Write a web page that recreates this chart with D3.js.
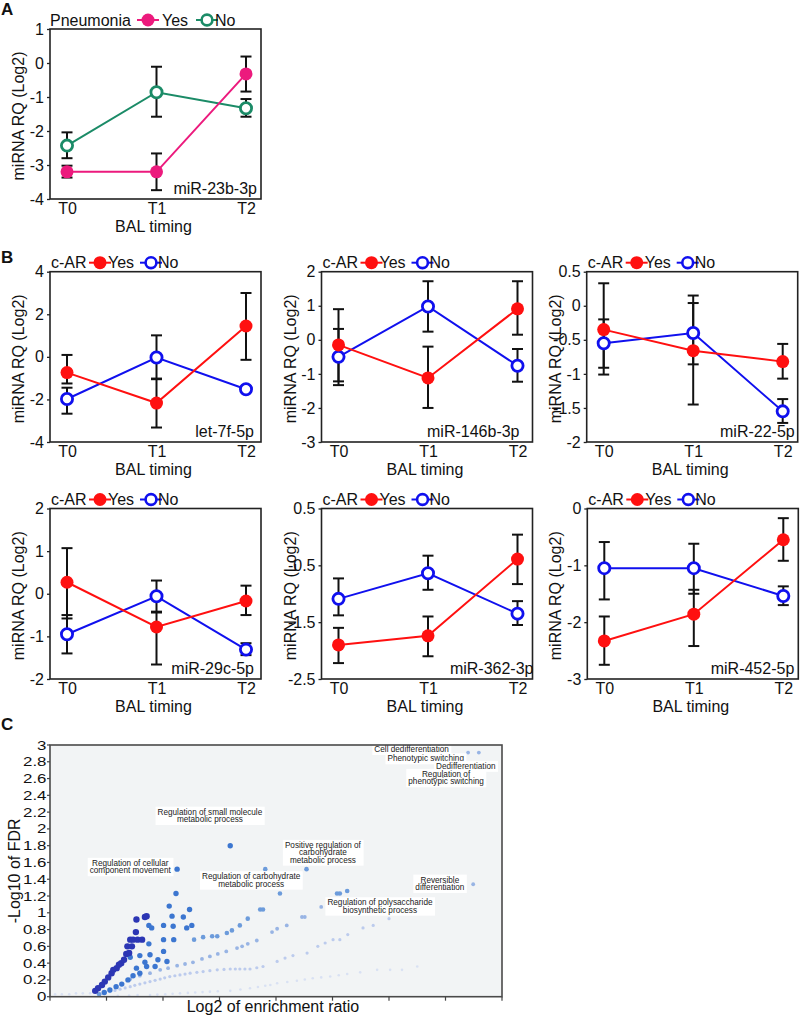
<!DOCTYPE html>
<html><head><meta charset="utf-8">
<script src="https://cdn.jsdelivr.net/npm/d3@7"></script>
<style>
body{margin:0;background:#fff;}
svg{display:block;font-family:"Liberation Sans",Arial,Helvetica,sans-serif;}
</style></head><body>
<svg id="c" width="800" height="1017"></svg>
<script>
// ---------------- DATA ----------------
const timepoints = ["T0","T1","T2"];

// Panel A: miR-23b-3p by pneumonia
const a_yes   = [-3.2, -3.2, -0.32];
const a_yesHi = [-3.02, -2.66, 0.19];
const a_yesLo = [-3.37, -3.74, -0.84];
const a_no    = [-2.43, -0.86, -1.33];
const a_noHi  = [-2.04, -0.11, -1.06];
const a_noLo  = [-2.80, -1.58, -1.58];
const a_ticks = [1, 0, -1, -2, -3, -4];

// Panel B: by c-AR
const let7f_yes = [-0.74, -2.17, 1.45], let7f_yesHi = [0.09, -1.02, 3.0], let7f_yesLo = [-1.25, -3.32, -0.14];
const let7f_no  = [-1.98, -0.03, -1.52], let7f_noHi = [-1.45, 1.01, -1.38], let7f_noLo = [-2.67, -1.05, -1.65];
const let7f_ticks = [4, 2, 0, -2, -4];

const m146_yes = [-0.15, -1.12, 0.91], m146_yesHi = [0.32, -0.2, 1.72], m146_yesLo = [-1.22, -2.0, 0.15];
const m146_no  = [-0.5, 0.98, -0.76],  m146_noHi = [0.9, 1.72, -0.27],  m146_noLo = [-1.33, 0.24, -1.23];
const m146_ticks = [2, 1, 0, -1, -2, -3];

const m22_yes = [-0.35, -0.66, -0.82], m22_yesHi = [-0.2, 0.04, -0.56], m22_yesLo = [-0.91, -0.86, -1.07];
const m22_no  = [-0.55, -0.4, -1.55],  m22_noHi = [0.33, 0.15, -1.37],  m22_noLo = [-1.01, -1.45, -1.72];
const m22_ticks = [0.5, 0, -0.5, -1, -1.5, -2];

const m29c_yes = [0.27, -0.78, -0.17], m29c_yesHi = [1.07, -0.44, 0.19], m29c_yesLo = [-0.58, -1.66, -0.5];
const m29c_no  = [-0.95, -0.06, -1.31], m29c_noHi = [-0.5, 0.31, -1.16], m29c_noLo = [-1.4, -0.42, -1.44];
const m29c_ticks = [2, 1, 0, -1, -2];

const m362_yes = [-1.9, -1.74, -0.39], m362_yesHi = [-1.6, -1.4, 0.04], m362_yesLo = [-2.22, -2.1, -0.83];
const m362_no  = [-1.09, -0.64, -1.35], m362_noHi = [-0.73, -0.33, -1.13], m362_noLo = [-1.38, -0.93, -1.55];
const m362_ticks = [0.5, -0.5, -1.5, -2.5];

const m452_yes = [-2.33, -1.86, -0.55], m452_yesHi = [-1.9, -1.43, -0.17], m452_yesLo = [-2.75, -2.42, -0.92];
const m452_no  = [-1.05, -1.05, -1.54], m452_noHi = [-0.59, -0.62, -1.37], m452_noLo = [-1.6, -1.5, -1.7];
const m452_ticks = [0, -1, -2, -3];

// Panel C: enrichment scatter (x: log2 enrichment ratio, y: -log10 FDR), grouped by band
const band1 = [[0.09,0.03],[0.21,0.03],[0.34,0.03],[0.46,0.04],[0.58,0.04],[0.71,0.04],[1.2,0.01],[1.4,0.015],[1.55,0.02],
  [1.77,0.02],[1.9,0.025],[2.04,0.03],[2.17,0.035],[2.30,0.04],[2.44,0.045],[2.57,0.05],[2.7,0.055],[2.83,0.06],[2.97,0.065],
  [3.19,0.07],[3.37,0.085],[3.54,0.10],[3.68,0.115],[3.81,0.13],[3.9,0.14],[4.02,0.16],[4.2,0.175],[4.37,0.19],[4.51,0.205],[4.65,0.22],
  [4.8,0.23],[4.96,0.24],[5.11,0.255],[5.26,0.27],[5.49,0.29],[5.79,0.32],[6.02,0.32],[6.23,0.32],[6.50,0.36]];
const band2 = [[1.06,0.06],[1.15,0.075],[1.24,0.09],[1.33,0.105],[1.42,0.12],[1.5,0.135],[1.59,0.15],[1.68,0.165],[1.77,0.18],[1.86,0.195],
  [1.95,0.21],[2.03,0.225],[2.12,0.24],[2.21,0.25],[2.30,0.26],[2.39,0.27],[2.48,0.28],[2.6,0.29],[2.71,0.30],[2.83,0.31],[2.96,0.32],
  [3.08,0.325],[3.19,0.33],[3.28,0.33],[3.36,0.33],[3.45,0.33],[3.54,0.33],[3.66,0.345],[3.77,0.36],[4.02,0.42],[4.16,0.46],[4.30,0.49],
  [4.55,0.52],[4.74,0.60],[4.87,0.64],[5.01,0.68],[5.13,0.68],[5.27,0.74],[5.54,0.82],[5.72,0.85],[6.00,0.93]];
const band3 = [[1.42,0.21],[1.59,0.25],[1.77,0.28],[1.95,0.32],[2.09,0.34],[2.25,0.37],[2.39,0.39],[2.53,0.41],[2.69,0.45],[2.83,0.48],
  [2.97,0.51],[3.12,0.54],[3.31,0.58],[3.40,0.60],[3.50,0.63],[3.66,0.67],[3.93,0.77],[4.02,0.81],[4.19,0.85],[4.46,0.95],[4.51,0.95],
  [4.80,1.07],[7.49,1.34],[7.40,2.91],[7.59,2.91]];
const band4 = [[0.87,0.03],[2.55,0.68],[2.71,0.71],[2.87,0.72],[2.96,0.72],[3.13,0.76],[3.22,0.79],[3.36,0.85],[3.50,0.93],[3.72,1.04],
  [3.77,1.04],[4.07,1.23],[5.08,1.23],[5.13,1.23],[5.26,1.26],[3.81,1.52],[4.54,1.52]];
const band5 = [[2.01,0.85],[2.01,0.68],[2.01,0.54],[2.18,0.84],[2.36,0.95],[2.47,1.04],[2.42,0.82],[2.51,0.85],[2.19,0.68],[2.16,0.96],
  [2.11,1.08],[2.23,1.23],[2.25,1.52],[1.75,0.85],[1.80,0.82],[1.75,0.63],[1.77,0.50],[1.59,0.49],[1.86,0.36],[1.71,0.36],[2.07,0.42],
  [1.53,0.34],[1.59,0.28],[1.47,0.25],[1.38,0.20],[1.27,0.15],[1.17,0.12],[1.06,0.08],[0.96,0.05],[1.91,0.44],[1.68,0.41],[1.42,0.47],[3.19,1.80]];
const band6 = [[1.53,0.92],[1.68,0.95],[1.71,0.96],[1.52,0.77],[1.42,0.68],[1.47,0.68],[1.55,0.68],[1.63,0.68],[1.37,0.60],[1.45,0.60],
  [1.35,0.51],[1.40,0.52],[1.26,0.40],[1.31,0.44],[1.18,0.34],[1.22,0.38],[1.09,0.28],[1.12,0.32],[1.03,0.23],[0.97,0.18],[0.92,0.14],
  [0.85,0.10],[0.80,0.07]];
const cTicks = [0,0.2,0.4,0.6,0.8,1,1.2,1.4,1.6,1.8,2,2.2,2.4,2.6,2.8,3];
const cTickLabels = ["0","0.2","0.4","0.6","0.8","1","1.2","1.4","1.6","1.8","2","2.2","2.4","2.6","2.8","3"];
const cXTicks = [0,1,2,3,4,5,6,7,8];
const cLabels = [
  {lines:["Cell dedifferentiation"], x:6.40, y:2.95},
  {lines:["Phenotypic switching"], x:6.65, y:2.84},
  {lines:["Dedifferentiation"], x:7.36, y:2.75},
  {lines:["Regulation of","phenotypic switching"], x:7.01, y:2.61},
  {lines:["Regulation of small molecule","metabolic process"], x:2.83, y:2.16},
  {lines:["Regulation of cellular","component movement"], x:1.42, y:1.55},
  {lines:["Regulation of carbohydrate","metabolic process"], x:3.56, y:1.39},
  {lines:["Positive regulation of","carbohydrate","metabolic process"], x:4.83, y:1.72},
  {lines:["Regulation of polysaccharide","biosynthetic process"], x:5.84, y:1.08},
  {lines:["Reversible","differentiation"], x:6.90, y:1.35}
];

// ---------------- DRAW ----------------
const svg = d3.select("#c");
const W = 211;

function linePanel(cfg) {
  const g = svg.append("g");
  const x = d3.scaleLinear().domain([0,2]).range([cfg.L+17, cfg.L+196]);
  const y = d3.scaleLinear().domain([cfg.ticks[cfg.ticks.length-1], cfg.ticks[0]]).range([cfg.bottom, cfg.top]);
  const R = cfg.L + W;

  g.append("rect").attr("x",cfg.L).attr("y",cfg.top).attr("width",W).attr("height",cfg.bottom-cfg.top)
    .attr("fill","none").attr("stroke","#222").attr("stroke-width",1.6);

  const ya = g.append("g").attr("transform",`translate(${cfg.L},0)`)
    .call(d3.axisLeft(y).tickValues(cfg.ticks).tickFormat(d=>String(d)).tickSize(3).tickPadding(3));
  ya.select(".domain").remove();
  ya.attr("font-size",null).attr("font-family",null);
  ya.selectAll("text").attr("font-size",16).attr("fill","#111");
  ya.selectAll("line").attr("stroke","#222").attr("stroke-width",1.3);

  const xa = g.append("g").attr("transform",`translate(0,${cfg.bottom})`)
    .call(d3.axisBottom(x).tickValues([0,1,2]).tickFormat(i=>timepoints[i]).tickSize(0).tickPadding(4));
  xa.select(".domain").remove();
  xa.attr("font-size",null).attr("font-family",null);
  xa.selectAll("text").attr("font-size",16).attr("fill","#111");

  g.append("text").attr("transform",`translate(${cfg.L-26},${(cfg.top+cfg.bottom)/2+2}) rotate(-90)`)
    .attr("text-anchor","middle").attr("font-size",16).attr("fill","#111").text("miRNA RQ (Log2)");
  g.append("text").attr("x",cfg.L+W/2-2).attr("y",cfg.bottom+33).attr("text-anchor","middle")
    .attr("font-size",16).attr("fill","#111").text("BAL timing");
  g.append("text").attr("x",R-cfg.annOff).attr("y",cfg.bottom-5).attr("text-anchor","end")
    .attr("font-size",16).attr("fill","#111").text(cfg.name);

  const idx = [0,1,2];
  const line = d3.line().x(i=>x(i));
  const series = [
    {v:cfg.no, lo:cfg.noLo, hi:cfg.noHi, col:cfg.cNo, filled:false},
    {v:cfg.yes, lo:cfg.yesLo, hi:cfg.yesHi, col:cfg.cYes, filled:true}
  ];
  series.forEach(s=>{
    g.append("path").attr("d", line.y(i=>y(s.v[i]))(idx)).attr("fill","none").attr("stroke",s.col).attr("stroke-width",2);
  });
  series.forEach(s=>{
    const eb = g.append("g").attr("stroke","#111").attr("stroke-width",2);
    idx.forEach(i=>{
      eb.append("line").attr("x1",x(i)).attr("x2",x(i)).attr("y1",y(s.lo[i])).attr("y2",y(s.hi[i]));
      eb.append("line").attr("x1",x(i)-5.5).attr("x2",x(i)+5.5).attr("y1",y(s.lo[i])).attr("y2",y(s.lo[i]));
      eb.append("line").attr("x1",x(i)-5.5).attr("x2",x(i)+5.5).attr("y1",y(s.hi[i])).attr("y2",y(s.hi[i]));
    });
  });
  series.forEach(s=>{
    g.selectAll(null).data(idx).enter().append("circle")
      .attr("cx",i=>x(i)).attr("cy",i=>y(s.v[i]))
      .attr("r", s.filled?6.5:5.6)
      .attr("fill", s.filled? s.col : "#fff")
      .attr("stroke", s.col).attr("stroke-width", s.filled?0:2.8);
  });

  // legend
  const ly = cfg.top - 9;
  const lg = g.append("g");
  lg.append("text").attr("x",cfg.L+cfg.lg[0]).attr("y",ly+5.7).attr("font-size",16).attr("fill","#111").text(cfg.legendTitle);
  const items = [
    {cx:cfg.L+cfg.lg[1], tx:cfg.L+cfg.lg[2], col:cfg.cYes, filled:true, label:"Yes"},
    {cx:cfg.L+cfg.lg[3], tx:cfg.L+cfg.lg[4], col:cfg.cNo, filled:false, label:"No"}
  ];
  items.forEach(it=>{
    lg.append("line").attr("x1",it.cx-11).attr("x2",it.cx+11).attr("y1",ly).attr("y2",ly).attr("stroke",it.col).attr("stroke-width",2);
    lg.append("circle").attr("cx",it.cx).attr("cy",ly).attr("r",it.filled?6.5:5.4)
      .attr("fill",it.filled?it.col:"#fff").attr("stroke",it.col).attr("stroke-width",it.filled?0:2.6);
    lg.append("text").attr("x",it.tx).attr("y",ly+5.7).attr("font-size",16).attr("fill","#111").text(it.label);
  });
}

const PINK="#ec1a7d", GREEN="#1b8b67", RED="#ff1010", BLUE="#1010ee";
const lgA = [0,98,112,157,165], lgB = [1,50,58,101,108];

linePanel({L:50, top:29, bottom:199, ticks:a_ticks, name:"miR-23b-3p", annOff:4,
  yes:a_yes, yesLo:a_yesLo, yesHi:a_yesHi, no:a_no, noLo:a_noLo, noHi:a_noHi,
  cYes:PINK, cNo:GREEN, legendTitle:"Pneumonia", lg:lgA});

const rowB = [
  {L:50, top:271.7, bottom:442, ticks:let7f_ticks, name:"let-7f-5p", annOff:7,
   yes:let7f_yes, yesLo:let7f_yesLo, yesHi:let7f_yesHi, no:let7f_no, noLo:let7f_noLo, noHi:let7f_noHi},
  {L:321.5, top:271.7, bottom:442, ticks:m146_ticks, name:"miR-146b-3p", annOff:13,
   yes:m146_yes, yesLo:m146_yesLo, yesHi:m146_yesHi, no:m146_no, noLo:m146_noLo, noHi:m146_noHi},
  {L:586.7, top:271.7, bottom:442, ticks:m22_ticks, name:"miR-22-5p", annOff:3,
   yes:m22_yes, yesLo:m22_yesLo, yesHi:m22_yesHi, no:m22_no, noLo:m22_noLo, noHi:m22_noHi},
  {L:50, top:508.5, bottom:679, ticks:m29c_ticks, name:"miR-29c-5p", annOff:7,
   yes:m29c_yes, yesLo:m29c_yesLo, yesHi:m29c_yesHi, no:m29c_no, noLo:m29c_noLo, noHi:m29c_noHi},
  {L:321.5, top:508.5, bottom:679, ticks:m362_ticks, name:"miR-362-3p", annOff:-1,
   yes:m362_yes, yesLo:m362_yesLo, yesHi:m362_yesHi, no:m362_no, noLo:m362_noLo, noHi:m362_noHi},
  {L:587.3, top:508.5, bottom:679, ticks:m452_ticks, name:"miR-452-5p", annOff:4,
   yes:m452_yes, yesLo:m452_yesLo, yesHi:m452_yesHi, no:m452_no, noLo:m452_noLo, noHi:m452_noHi}
];
rowB.forEach(c=>linePanel(Object.assign({cYes:RED, cNo:BLUE, legendTitle:"c-AR", lg:lgB}, c)));

// panel letters
[["A",15],["B",263],["C",730]].forEach(([t,yy])=>{
  svg.append("text").attr("x",1).attr("y",yy).attr("font-size",17).attr("font-weight","bold").attr("fill","#111").text(t);
});

// ---------------- Panel C ----------------
(function(){
  const L=50, R=502, T=745, B=996.7;
  const x = d3.scaleLinear().domain([0,8]).range([L,R]);
  const y = d3.scaleLinear().domain([0,3]).range([B,T]);
  const g = svg.append("g");
  g.append("rect").attr("x",L).attr("y",T).attr("width",R-L).attr("height",B-T).attr("fill","#f2f4f5");

  const bands = [band1,band2,band3,band4,band5,band6];
  const colors = ["#d9e1f3","#bccbed","#98b4e4","#6c9bdb","#3c76d0","#2c36b4"];
  const radii = [1.3,1.6,1.9,2.3,2.7,3.2];
  bands.forEach((b,k)=>{
    g.append("g").selectAll("circle").data(b).enter().append("circle")
      .attr("cx",d=>x(d[0])).attr("cy",d=>y(d[1])).attr("r",radii[k]).attr("fill",colors[k]);
  });

  // labels with white boxes
  cLabels.forEach(lb=>{
    const lh = 7.4;
    const n = lb.lines.length;
    const lgp = g.append("g");
    const tg = lgp.append("g");
    lb.lines.forEach((s,i)=>{
      tg.append("text").attr("x",x(lb.x)).attr("y",y(lb.y)+(i-(n-1)/2)*lh).attr("dy","0.35em")
        .attr("text-anchor","middle").attr("font-size",8.2).attr("fill","#222").text(s);
    });
    const bb = tg.node().getBBox();
    lgp.insert("rect","g").attr("x",bb.x-2).attr("y",bb.y-1).attr("width",bb.width+4).attr("height",bb.height+2).attr("fill","#fff");
  });

  g.append("rect").attr("x",L).attr("y",T).attr("width",R-L).attr("height",B-T).attr("fill","none")
    .attr("stroke","#4a4a4a").attr("stroke-width",1.6);

  // y ticks
  const yt = g.append("g");
  cTicks.forEach((t,i)=>{
    yt.append("line").attr("x1",L-3).attr("x2",L).attr("y1",y(t)).attr("y2",y(t)).attr("stroke","#444").attr("stroke-width",1.2);
    yt.append("text").attr("transform",`translate(${L-3.5},${y(t)}) scale(1.35,1)`).attr("dy","0.36em")
      .attr("text-anchor","end").attr("font-size",12.5).attr("fill","#111").text(cTickLabels[i]);
  });
  // x ticks
  cXTicks.forEach(t=>{
    g.append("line").attr("x1",x(t)).attr("x2",x(t)).attr("y1",B).attr("y2",B+4).attr("stroke","#444").attr("stroke-width",1.2);
  });
  g.append("text").attr("transform",`translate(20,${(T+B)/2}) rotate(-90)`).attr("text-anchor","middle")
    .attr("font-size",16).attr("fill","#111").text("-Log10 of FDR");
  g.append("text").attr("x",273).attr("y",1012).attr("text-anchor","middle").attr("font-size",16).attr("fill","#111")
    .text("Log2 of enrichment ratio");
})();
</script>
</body></html>
